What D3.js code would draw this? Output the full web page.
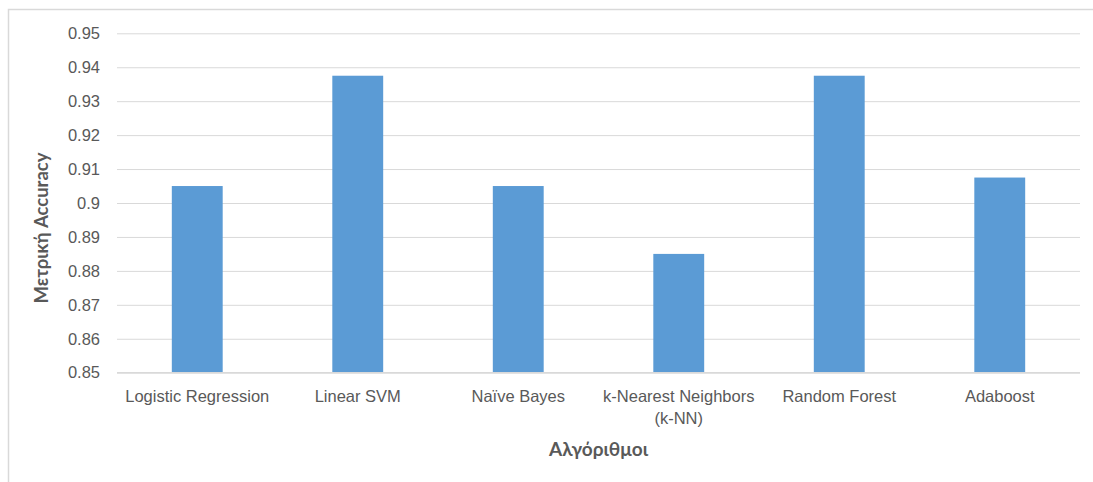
<!DOCTYPE html>
<html>
<head>
<meta charset="utf-8">
<script src="https://cdn.jsdelivr.net/npm/d3@7"></script>
<style>
  html, body { margin: 0; padding: 0; background: #ffffff; }
  svg { display: block; font-family: Lato, "Open Sans", sans-serif; }
</style>
</head>
<body>
<svg id="chart" width="1093" height="482"></svg>
<script>
// Accuracy per algorithm
const categories = [
  "Logistic Regression",
  "Linear SVM",
  "Naïve Bayes",
  "k-Nearest Neighbors (k-NN)",
  "Random Forest",
  "Adaboost"
];
const accuracy = [0.905, 0.9375, 0.905, 0.885, 0.9375, 0.9075];
const yTicks = [0.85, 0.86, 0.87, 0.88, 0.89, 0.9, 0.91, 0.92, 0.93, 0.94, 0.95];
const xTitle = "Αλγόριθμοι";
const yTitle = "Μετρική Accuracy";

const svg = d3.select("#chart");
const W = 1093, H = 482;
const m = { left: 117, right: 13, top: 33.3, bottom: 109.3 };

// outer chart frame
svg.append("rect")
  .attr("x", 8.5).attr("y", 9.5)
  .attr("width", W + 10).attr("height", H + 10)
  .attr("fill", "none").attr("stroke", "#d9d9d9").attr("stroke-width", 1.5);

const x = d3.scaleBand()
  .domain(categories)
  .range([m.left, W - m.right])
  .paddingInner(0.683)
  .paddingOuter(0.3415);

const y = d3.scaleLinear()
  .domain([0.85, 0.95])
  .range([H - m.bottom, m.top]);

// horizontal gridlines
const yAxis = d3.axisLeft(y)
  .tickValues(yTicks)
  .tickSize(-(W - m.right - m.left))
  .tickPadding(17)
  .tickFormat(d => String(+d.toFixed(2)));

const gy = svg.append("g")
  .attr("transform", `translate(${m.left},0)`)
  .call(yAxis);
gy.select(".domain").remove();
gy.selectAll(".tick line").attr("stroke", "#d9d9d9").attr("stroke-width", 1);
gy.selectAll(".tick text")
  .attr("fill", "#595959")
  .style("font-size", "16.5px");

// bars
svg.append("g")
  .selectAll("rect")
  .data(categories)
  .join("rect")
  .attr("x", d => x(d))
  .attr("width", x.bandwidth())
  .attr("y", (d, i) => y(accuracy[i]))
  .attr("height", (d, i) => y(0.85) - y(accuracy[i]))
  .attr("fill", "#5b9bd5");

// baseline
svg.append("line")
  .attr("x1", m.left).attr("x2", W - m.right)
  .attr("y1", y(0.85)).attr("y2", y(0.85))
  .attr("stroke", "#d9d9d9").attr("stroke-width", 1.2);

// category labels, wrapped to the band width
const xAxis = d3.axisBottom(x).tickSize(0).tickPadding(0);
const gx = svg.append("g")
  .attr("transform", `translate(0,${y(0.85)})`)
  .call(xAxis);
gx.select(".domain").remove();
gx.selectAll(".tick text")
  .attr("fill", "#595959")
  .style("font-size", "16.5px")
  .each(function (d) {
    const t = d3.select(this);
    const lines = d === "k-Nearest Neighbors (k-NN)"
      ? ["k-Nearest Neighbors", "(k-NN)"] : [d];
    t.text(null);
    lines.forEach((ln, i) => {
      t.append("tspan")
        .attr("x", 0)
        .attr("y", 29 + i * 22.5)
        .text(ln);
    });
  })
  .attr("dy", null);

// axis titles
svg.append("text")
  .attr("x", (m.left + W - m.right) / 2)
  .attr("y", 456)
  .attr("text-anchor", "middle")
  .attr("fill", "#595959")
  .style("font-size", "19px")
  .style("font-weight", "bold")
  .text(xTitle);

svg.append("text")
  .attr("transform", "translate(48,228) rotate(-90)")
  .attr("text-anchor", "middle")
  .attr("fill", "#595959")
  .style("font-size", "18.5px")
  .style("font-weight", "bold")
  .text(yTitle);
</script>
</body>
</html>
